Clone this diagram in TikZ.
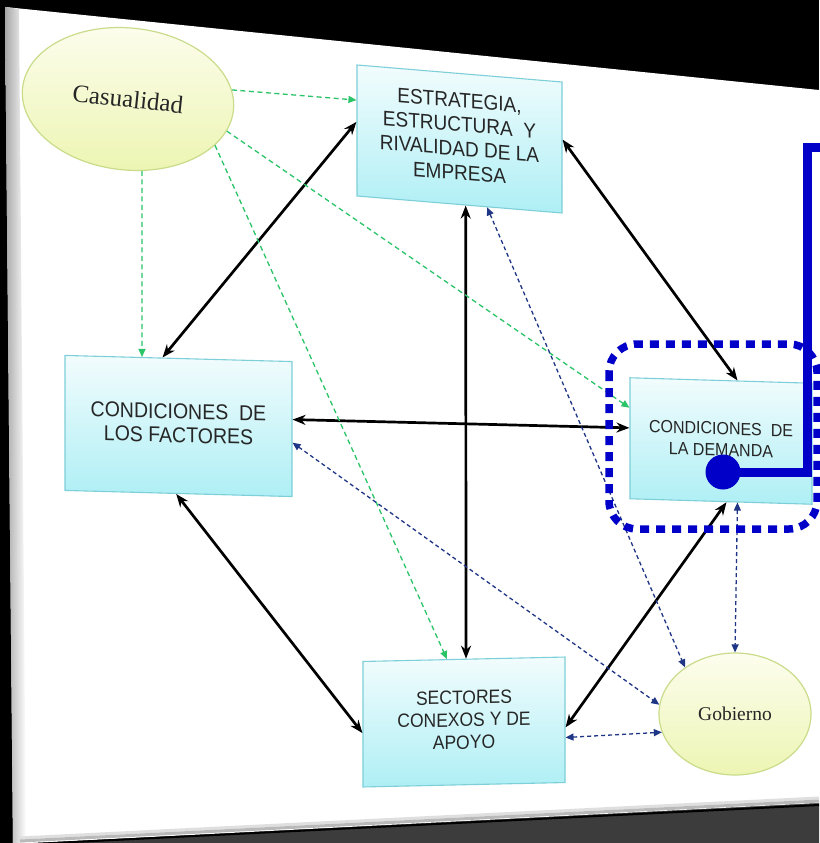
\documentclass[tikz,border=0pt]{standalone}
\usepackage{fontspec}
\usepackage{graphicx}
\setmainfont{Liberation Sans}
\newfontfamily\timesfont{Liberation Serif}
\usetikzlibrary{arrows.meta,calc,shapes.geometric}

\definecolor{boxtop}{HTML}{F2FCFD}
\definecolor{boxbot}{HTML}{AEEFF5}
\definecolor{boxedge}{HTML}{7DCFD8}
\definecolor{ovaltop}{HTML}{FDFDEE}
\definecolor{ovalbot}{HTML}{EDF5B3}
\definecolor{ovaledge}{HTML}{C9DC8A}
\definecolor{txtgray}{HTML}{262626}
\definecolor{greendash}{HTML}{2BC468}
\definecolor{navydash}{HTML}{1F3585}
\definecolor{hlblue}{HTML}{0000C8}
\definecolor{floorgray}{HTML}{3C3C3C}

% slightly tall lettering, several centred lines
\newcommand\tallines[1]{\scalebox{1}[1.1]{\begin{tabular}{@{}c@{}}#1\end{tabular}}}

\begin{document}
\begin{tikzpicture}[x=1pt,y=-1pt,
  boxnode/.style={rectangle, draw=boxedge, line width=1.1pt, top color=boxtop,
    bottom color=boxbot, inner sep=0pt, text=txtgray, transform shape},
  ovalnode/.style={ellipse, draw=ovaledge, line width=1.2pt, top color=ovaltop,
    bottom color=ovalbot, inner sep=0pt, text=txtgray, transform shape},
  force/.style={line width=2.7pt, black,
    {Stealth[length=13pt,width=10pt]}-{Stealth[length=13pt,width=10pt]}},
  chance/.style={draw=greendash, line width=1.3pt, dash pattern=on 5pt off 3.5pt,
    -{Triangle[length=8pt,width=7pt,fill=greendash]}},
  govlink/.style={draw=navydash, line width=1.3pt, dash pattern=on 4pt off 3pt,
    {Triangle[length=8pt,width=7pt,fill=navydash]}-{Triangle[length=8pt,width=7pt,fill=navydash]}},
  hlframe/.style={draw=hlblue, line width=7.5pt, dash pattern=on 9pt off 7pt, rounded corners=28pt},
  hlwire/.style={draw=hlblue, line width=9pt, line join=miter}
]
\useasboundingbox (0,0) rectangle (819,843);

% backdrop, floor and the tilted sheet
\fill[black] (0,0) rectangle (819,843);
\fill[floorgray] (13,844) -- (819,803) -- (819,843) -- (13,843) -- cycle;
\fill[white] (5,7) -- (819,90) -- (819,803) -- (13,844) -- cycle;
\shade[left color=gray!70, right color=white] (5,7) -- (19,9) -- (26,843) -- (13,844) -- cycle;
\draw[gray!25, line width=3pt] (20,838) -- (819,798);
\draw[gray!55, line width=3pt] (20,841) -- (819,801);
\draw[black, line width=2pt] (13,845) -- (819,805);

% boxes
\node[boxnode, shift={(459.5,139)}, yslant=-0.083, minimum width=205pt, minimum height=131pt,
  font=\fontsize{19}{22}\selectfont] (est) at (0,0)
  {\raisebox{11pt}{\tallines{ESTRATEGIA,\\ESTRUCTURA\ \ Y\\RIVALIDAD DE LA\\EMPRESA}}};
\node[boxnode, shift={(178.5,426)}, yslant=-0.027, minimum width=227pt, minimum height=135pt,
  font=\fontsize{19.5}{21.5}\selectfont] (fac) at (0,0)
  {\raisebox{10pt}{\tallines{CONDICIONES\ \ DE\\LOS FACTORES}}};
\node[boxnode, shift={(721,441)}, yslant=-0.03, minimum width=182pt, minimum height=121pt,
  font=\fontsize{16}{19.5}\selectfont] (dem) at (0,0)
  {\raisebox{8pt}{\tallines{CONDICIONES\ \ DE\\LA DEMANDA}}};
\node[boxnode, shift={(464,722)}, yslant=0.022, minimum width=202pt, minimum height=125.5pt,
  font=\fontsize{17.5}{20.5}\selectfont] (sec) at (0,0)
  {\tallines{SECTORES\\CONEXOS Y DE\\APOYO}};

% ovals
\node[ovalnode, shift={(128,99)}, rotate=-6, minimum width=212pt, minimum height=142pt,
  font=\timesfont\fontsize{25}{28}\selectfont] (cas) at (0,0) {\raisebox{-3pt}{Casualidad}};
\node[ovalnode, shift={(735,714)}, minimum width=152pt, minimum height=122pt,
  font=\timesfont\fontsize{19.5}{22}\selectfont] (gob) at (0,0) {\raisebox{-3pt}{Gobierno}};

% the four determinants
\draw[force] ($(fac.north west)!0.43!(fac.north east)$) -- ($(est.north west)!0.435!(est.south west)$);
\draw[force] ($(est.north east)!0.44!(est.south east)$) -- ($(dem.north west)!0.59!(dem.north east)$);
\draw[force] ($(fac.north east)!0.43!(fac.south east)$) -- ($(dem.north west)!0.415!(dem.south west)$);
\draw[force] ($(est.south west)!0.53!(est.south east)$) -- ($(sec.north west)!0.51!(sec.north east)$);
\draw[force] ($(fac.south west)!0.49!(fac.south east)$) -- ($(sec.north west)!0.57!(sec.south west)$);
\draw[force] ($(dem.south west)!0.53!(dem.south east)$) -- ($(sec.north east)!0.56!(sec.south east)$);

% chance
\draw[chance] (cas.11) -- ($(est.north west)!0.27!(est.south west)$);
\draw[chance] (cas.-73) -- ($(fac.north west)!0.34!(fac.north east)$);
\draw[chance] (cas.-22) -- ($(sec.north west)!0.416!(sec.north east)$);
\draw[chance] (cas.-12) -- ($(dem.north west)!0.25!(dem.south west)$);

% government
\draw[govlink] ($(est.south west)!0.634!(est.south east)$) -- (gob.137);
\draw[govlink] ($(fac.north east)!0.6!(fac.south east)$) -- (gob.173);
\draw[govlink] ($(dem.south west)!0.59!(dem.south east)$) -- (gob.90);
\draw[govlink] ($(sec.north east)!0.64!(sec.south east)$) -- (gob.194);

% highlight on demand conditions
\draw[hlframe] (609,344) rectangle (817,529);
\coordinate (dot) at ($(dem.center)+(2,31)$);
\coordinate (wiretop) at (807,147);
\coordinate (wireend) at (830,147);
\draw[hlwire] (dot) -| (wiretop) -- (wireend);
\fill[hlblue] (dot) circle (17.5pt);
\end{tikzpicture}
\end{document}
